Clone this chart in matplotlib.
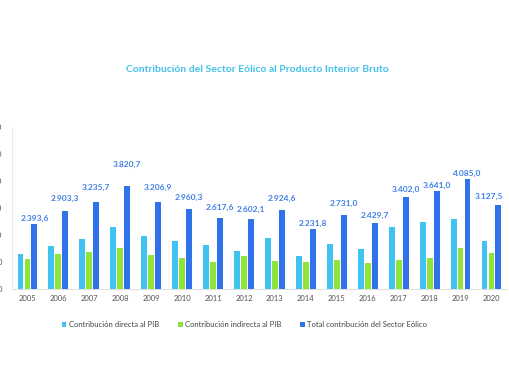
import numpy as np
import matplotlib.pyplot as plt

# Datos (millones de euros)
anios = ["2005", "2006", "2007", "2008", "2009", "2010", "2011", "2012",
         "2013", "2014", "2015", "2016", "2017", "2018", "2019", "2020"]
directa = [1290, 1610, 1870, 2285, 1945, 1795, 1617, 1390,
           1895, 1220, 1650, 1480, 2310, 2490, 2580, 1780]
indirecta = [1104, 1293, 1366, 1536, 1262, 1165, 1001, 1212,
             1030, 1012, 1081, 950, 1092, 1151, 1505, 1348]
total = [2393.6, 2903.3, 3235.7, 3820.7, 3206.9, 2960.3, 2617.6, 2602.1,
         2924.6, 2231.8, 2731.0, 2429.7, 3402.0, 3641.0, 4085.0, 3127.5]
series = ["Contribución directa al PIB", "Contribución indirecta al PIB",
          "Total contribución del Sector Eólico"]

# separacion de las etiquetas respecto a la barra (puntos)
desplaz = [2, 6, 8, 13, 8, 6, 5, 4, 6, 1, 6, 3, 3, 1, 1, 3]

colores = ["#41c3f2", "#8fe43c", "#2f72ea"]

plt.rcParams["font.family"] = ["Lato", "DejaVu Sans"]

fig = plt.figure(figsize=(5.1, 3.82), dpi=100)
ax = fig.add_axes([0.0235, 0.2435, 0.9705, 0.424])

x = np.arange(len(anios))
w = 0.19
paso = 0.225
ax.bar(x - paso, directa, w, color=colores[0], label=series[0])
ax.bar(x, indirecta, w, color=colores[1], label=series[1])
barras = ax.bar(x + paso, total, w, color=colores[2], label=series[2])

for i, (b, v, d) in enumerate(zip(barras, total, desplaz)):
    txt = f"{v:,.1f}".replace(",", "X").replace(".", ",").replace("X", ".")
    if i == len(total) - 1:
        # la ultima etiqueta se desplaza a la izquierda para no salirse
        xp, ha = b.get_x() + b.get_width() + 0.05, "right"
    else:
        xp, ha = b.get_x() + b.get_width() / 2, "center"
    ax.annotate(txt, (xp, v), xytext=(0, d),
                textcoords="offset points", ha=ha, va="bottom",
                fontsize=6, fontweight="bold", color="#3d7fe6")

ax.set_xlim(-0.5, len(anios) - 0.5)
ax.set_ylim(0, 6000)
ax.set_yticks(range(0, 6001, 1000))
ax.set_yticklabels([f"{v:,}".replace(",", ".") for v in range(0, 6001, 1000)])
ax.set_xticks(x)
ax.set_xticklabels(anios)
ax.tick_params(axis="both", length=0, labelsize=5.5, labelcolor="#555555")
ax.tick_params(axis="y", pad=7)
ax.tick_params(axis="x", pad=4)

for s in ["top", "right"]:
    ax.spines[s].set_visible(False)
ax.spines["left"].set_color("#e6e6e6")
ax.spines["bottom"].set_color("#d9d9d9")
ax.spines["left"].set_linewidth(0.6)
ax.spines["bottom"].set_linewidth(0.6)

fig.text(0.505, 0.817, "Contribución del Sector Eólico al Producto Interior Bruto",
         ha="center", va="center", fontsize=7.5, fontweight="bold", color="#45c1ec")

ax.legend(loc="upper center", bbox_to_anchor=(0.47, -0.155), ncol=3, frameon=False,
          fontsize=5.5, handlelength=0.6, handleheight=0.6, handletextpad=0.3,
          columnspacing=2.5, labelcolor="#444444")

fig.savefig("out.png", dpi=100)
